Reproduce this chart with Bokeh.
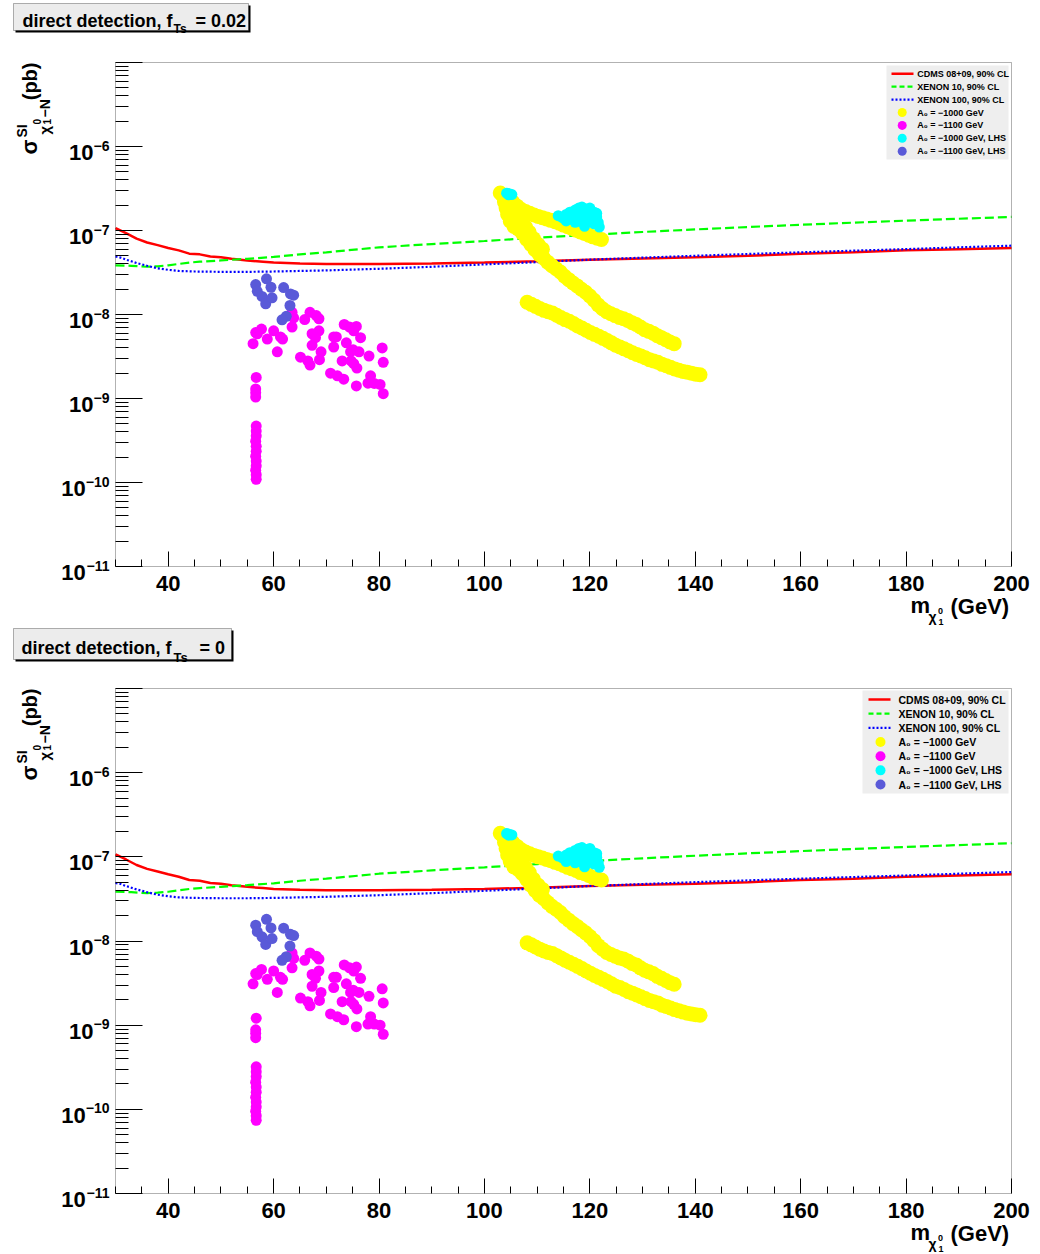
import math
from bokeh.plotting import figure
from bokeh.models import (Range1d, LinearScale, FixedTicker, Label, BoxAnnotation,
                          CustomJSTickFormatter)
from bokeh.layouts import column
from bokeh.embed import file_html
from bokeh.resources import INLINE

FONT = "Liberation Sans"

# ---------------- axes / ticks ----------------
X_MIN, X_MAX = 30, 200
Y_MIN_EXP, Y_MAX_EXP = -11, -5
x_ticks = [40, 60, 80, 100, 120, 140, 160, 180, 200]
x_minor = [30, 35, 45, 50, 55, 65, 70, 75, 85, 90, 95, 105, 110, 115, 125, 130, 135,
           145, 150, 155, 165, 170, 175, 185, 190, 195]
x_tick_labels = ["40", "60", "80", "100", "120", "140", "160", "180", "200"]
y_label_exps = [-11, -10, -9, -8, -7, -6]
legend_names = ["CDMS 08+09, 90% CL", "XENON 10, 90% CL", "XENON 100, 90% CL",
                "A\u2080 = \u22121000 GeV", "A\u2080 = \u22121100 GeV",
                "A\u2080 = \u22121000 GeV, LHS", "A\u2080 = \u22121100 GeV, LHS"]

# ---------------- exclusion limits (same in both panels) ----------------
cdms_x = [30, 32, 34, 36, 38, 40, 42, 44, 46, 48, 50, 52, 55, 58, 60, 65, 70, 80, 90,
          100, 110, 120, 130, 140, 150, 160, 170, 180, 190, 200]
cdms_y = [1.07e-7, 9.3e-8, 8.0e-8, 7.2e-8, 6.7e-8, 6.2e-8, 5.8e-8, 5.3e-8, 5.2e-8, 4.9e-8,
          4.8e-8, 4.6e-8, 4.4e-8, 4.25e-8, 4.15e-8, 4.05e-8, 4.0e-8, 4.0e-8, 4.05e-8,
          4.15e-8, 4.3e-8, 4.5e-8, 4.65e-8, 4.8e-8, 5.0e-8, 5.3e-8, 5.5e-8, 5.8e-8, 6.0e-8, 6.2e-8]
xe10_x = [30, 33, 36, 38, 40, 42, 44, 46, 50, 55, 60, 65, 70, 80, 90, 100, 110, 120, 130,
          140, 150, 160, 170, 180, 190, 200]
xe10_y = [3.85e-8, 3.8e-8, 3.7e-8, 3.75e-8, 3.85e-8, 4.0e-8, 4.15e-8, 4.25e-8, 4.4e-8,
          4.6e-8, 4.85e-8, 5.2e-8, 5.5e-8, 6.3e-8, 6.9e-8, 7.5e-8, 8.2e-8, 8.9e-8, 9.6e-8,
          1.03e-7, 1.1e-7, 1.17e-7, 1.24e-7, 1.31e-7, 1.38e-7, 1.45e-7]
xe100_x = [30, 31, 32, 33, 34, 35, 36, 38, 40, 42, 45, 50, 55, 60, 65, 70, 80, 90, 100,
           110, 120, 130, 140, 150, 160, 170, 180, 190, 200]
xe100_y = [4.9e-8, 4.75e-8, 4.5e-8, 4.3e-8, 4.1e-8, 3.95e-8, 3.8e-8, 3.55e-8, 3.4e-8,
           3.3e-8, 3.25e-8, 3.22e-8, 3.22e-8, 3.25e-8, 3.3e-8, 3.35e-8, 3.5e-8, 3.7e-8,
           3.95e-8, 4.2e-8, 4.5e-8, 4.75e-8, 5.0e-8, 5.25e-8, 5.5e-8, 5.75e-8, 6.0e-8, 6.3e-8, 6.6e-8]

# ---------------- A0 = -1000 GeV (yellow) ----------------
y1_upper_x = [103.0, 103.8, 104.6, 105.4, 106.2, 107.0, 107.8, 108.6, 109.4, 110.2, 111.0,
              111.8, 112.6, 113.4, 114.2, 115.0, 115.8, 116.6, 117.4, 118.2, 119.0, 119.8,
              120.6, 121.4, 122.2]
y1_upper_top = [2.8e-7, 2.6e-7, 2.42e-7, 2.15e-7, 1.95e-7, 1.78e-7, 1.68e-7, 1.6e-7, 1.53e-7,
                1.47e-7, 1.42e-7, 1.37e-7, 1.32e-7, 1.27e-7, 1.22e-7, 1.16e-7, 1.11e-7,
                1.06e-7, 1.01e-7, 9.6e-8, 9.2e-8, 8.8e-8, 8.4e-8, 8.1e-8, 7.8e-8]
y1_upper_bot = [1.9e-7, 1.77e-7, 1.65e-7, 1.46e-7, 1.33e-7, 1.21e-7, 1.14e-7, 1.09e-7, 1.04e-7,
                1.0e-7, 9.7e-8, 9.3e-8, 9.0e-8, 8.6e-8, 8.3e-8, 7.9e-8, 7.5e-8, 7.2e-8,
                6.9e-8, 6.5e-8, 6.3e-8, 6.0e-8, 5.7e-8, 5.5e-8, 5.3e-8]
y1_steep_x = [103.5, 103.8, 104.1, 104.4, 104.9, 105.6, 106.4, 107.2, 108.0, 108.8, 109.6,
              110.4, 111.2, 112.0, 112.8, 113.6, 114.4, 115.2, 116.0, 116.8, 117.6, 118.4,
              119.2, 120.0, 120.8, 121.6, 122.4, 123.2, 124.0, 124.8, 125.6, 126.4, 127.2,
              128.0, 128.8, 129.6, 130.4, 131.2, 132.0, 132.8, 133.6, 134.4, 135.2, 136.0,
              105.3, 105.8, 106.3, 107.0, 107.8, 108.5, 109.3, 110.2, 111.0]
y1_steep_top = [2.6e-7, 2.19e-7, 1.86e-7, 1.55e-7, 1.29e-7, 1.12e-7, 1.04e-7, 9.3e-8, 7.9e-8,
                6.8e-8, 5.9e-8, 5.2e-8, 4.7e-8, 4.2e-8, 3.8e-8, 3.5e-8, 3.2e-8, 2.85e-8,
                2.6e-8, 2.37e-8, 2.19e-8, 2.0e-8, 1.84e-8, 1.66e-8, 1.48e-8, 1.3e-8, 1.17e-8,
                1.08e-8, 1.02e-8, 9.7e-9, 9.2e-9, 8.9e-9, 8.5e-9, 8.0e-9, 7.6e-9, 7.1e-9,
                6.6e-9, 6.3e-9, 6.0e-9, 5.6e-9, 5.3e-9, 5.0e-9, 4.7e-9, 4.5e-9,
                2.2e-7, 1.8e-7, 1.5e-7, 1.3e-7, 1.1e-7, 9.5e-8, 8.0e-8, 6.8e-8, 6.0e-8]
y1_steep_bot = [1.77e-7, 1.49e-7, 1.26e-7, 1.05e-7, 8.8e-8, 7.6e-8, 7.1e-8, 6.3e-8, 5.4e-8,
                4.6e-8, 4.0e-8, 3.5e-8, 3.2e-8, 2.86e-8, 2.58e-8, 2.38e-8, 2.18e-8, 1.94e-8,
                1.77e-8, 1.61e-8, 1.49e-8, 1.36e-8, 1.25e-8, 1.13e-8, 1.01e-8, 8.8e-9, 8.0e-9,
                7.3e-9, 6.9e-9, 6.6e-9, 6.3e-9, 6.1e-9, 5.8e-9, 5.4e-9, 5.2e-9, 4.8e-9,
                4.5e-9, 4.3e-9, 4.1e-9, 3.8e-9, 3.6e-9, 3.4e-9, 3.2e-9, 3.06e-9,
                1.5e-7, 1.22e-7, 1.02e-7, 8.8e-8, 7.5e-8, 6.5e-8, 5.4e-8, 4.6e-8, 4.1e-8]
y1_lower_x = [108.1, 108.9, 109.7, 110.5, 111.3, 112.1, 112.9, 113.7, 114.5, 115.3, 116.1,
              116.9, 117.7, 118.5, 119.3, 120.1, 120.9, 121.7, 122.5, 123.3, 124.1, 124.9,
              125.7, 126.5, 127.3, 128.1, 128.9, 129.7, 130.5, 131.3, 132.1, 132.9, 133.7,
              134.5, 135.3, 136.1, 136.9, 137.7, 138.5, 139.3, 140.1, 140.9]
y1_lower_top = [1.40e-8, 1.32e-8, 1.25e-8, 1.18e-8, 1.12e-8, 1.08e-8, 1.04e-8, 9.8e-9, 9.2e-9,
                8.7e-9, 8.3e-9, 7.8e-9, 7.3e-9, 6.9e-9, 6.5e-9, 6.1e-9, 5.8e-9, 5.5e-9,
                5.2e-9, 4.9e-9, 4.6e-9, 4.3e-9, 4.1e-9, 3.9e-9, 3.7e-9, 3.5e-9, 3.35e-9,
                3.2e-9, 3.05e-9, 2.9e-9, 2.8e-9, 2.7e-9, 2.55e-9, 2.45e-9, 2.35e-9, 2.25e-9,
                2.17e-9, 2.1e-9, 2.05e-9, 2.0e-9, 1.95e-9, 1.92e-9]
y1_lower_bot = [9.5e-9, 9.0e-9, 8.5e-9, 8.0e-9, 7.6e-9, 7.3e-9, 7.1e-9, 6.7e-9, 6.3e-9,
                5.9e-9, 5.6e-9, 5.3e-9, 5.0e-9, 4.7e-9, 4.4e-9, 4.15e-9, 3.9e-9, 3.7e-9,
                3.5e-9, 3.3e-9, 3.1e-9, 2.9e-9, 2.8e-9, 2.65e-9, 2.5e-9, 2.4e-9, 2.28e-9,
                2.18e-9, 2.07e-9, 1.97e-9, 1.9e-9, 1.84e-9, 1.73e-9, 1.67e-9, 1.6e-9, 1.53e-9,
                1.48e-9, 1.43e-9, 1.39e-9, 1.36e-9, 1.33e-9, 1.31e-9]

# ---------------- A0 = -1100 GeV (magenta) ----------------
m1_x = [63.5, 63.8, 63.5, 66.9, 68.1, 68.6, 65.9, 68.6, 67.3, 67.95, 67.3, 69.0, 68.7, 65.1,
        66.5, 66.9, 56.6, 57.7, 56.1, 58.8, 60.0, 61.3, 61.7, 60.7, 56.9, 71.4, 71.9, 73.4,
        74.4, 75.2, 75.7, 76.5, 73.8, 71.4, 74.6, 75.1, 76.2, 73.0, 74.7, 75.2, 75.8, 70.8,
        72.1, 73.3, 75.7, 78.1, 80.6, 80.8, 78.4, 77.9, 79.1, 80.2, 80.8,
        56.7, 56.6, 56.6, 56.6, 56.7, 56.7, 56.7, 56.6, 56.7, 56.7, 56.6, 56.7, 56.7, 56.6,
        56.7, 56.7]
m1_top = [1.06e-8, 9.1e-9, 7.1e-9, 1.06e-8, 9.7e-9, 8.9e-9, 8.7e-9, 6.4e-9, 5.9e-9, 5.3e-9,
          4.3e-9, 3.6e-9, 2.9e-9, 3.1e-9, 2.8e-9, 2.5e-9, 6.1e-9, 6.7e-9, 4.5e-9, 5.1e-9,
          6.4e-9, 5.4e-9, 5.1e-9, 3.6e-9, 5.9e-9, 5.4e-9, 5.4e-9, 7.6e-9, 7.1e-9, 6.4e-9,
          7.2e-9, 5.3e-9, 4.6e-9, 4.1e-9, 3.6e-9, 3.8e-9, 3.6e-9, 2.8e-9, 2.8e-9, 2.6e-9,
          2.3e-9, 2.0e-9, 1.86e-9, 1.70e-9, 1.41e-9, 3.2e-9, 4.0e-9, 2.7e-9, 1.86e-9,
          1.52e-9, 1.51e-9, 1.47e-9, 1.14e-9,
          1.78e-9, 1.3e-9, 1.17e-9, 1.04e-9, 4.7e-10, 4.1e-10, 3.6e-10, 3.1e-10, 2.7e-10,
          2.35e-10, 2.05e-10, 1.8e-10, 1.58e-10, 1.4e-10, 1.24e-10, 1.09e-10]
m1_bot = [7.2e-9, 6.2e-9, 4.8e-9, 7.2e-9, 6.6e-9, 6.1e-9, 5.9e-9, 4.4e-9, 4.0e-9, 3.6e-9,
          2.9e-9, 2.45e-9, 1.97e-9, 2.1e-9, 1.9e-9, 1.7e-9, 4.1e-9, 4.6e-9, 3.1e-9, 3.5e-9,
          4.4e-9, 3.7e-9, 3.5e-9, 2.45e-9, 4.0e-9, 3.7e-9, 3.7e-9, 5.2e-9, 4.8e-9, 4.4e-9,
          4.9e-9, 3.6e-9, 3.1e-9, 2.8e-9, 2.45e-9, 2.6e-9, 2.45e-9, 1.9e-9, 1.9e-9, 1.77e-9,
          1.56e-9, 1.36e-9, 1.26e-9, 1.16e-9, 9.6e-10, 2.2e-9, 2.7e-9, 1.84e-9, 1.26e-9,
          1.03e-9, 1.03e-9, 1.0e-9, 7.8e-10,
          1.21e-9, 8.8e-10, 8.0e-10, 7.1e-10, 3.2e-10, 2.8e-10, 2.45e-10, 2.1e-10, 1.84e-10,
          1.6e-10, 1.39e-10, 1.22e-10, 1.07e-10, 9.5e-11, 8.4e-11, 7.4e-11]

# ---------------- A0 = -1000 GeV, LHS (cyan) ----------------
c1_x = [104.2, 104.7, 105.2, 104.6, 114.0, 114.8, 115.5, 116.2, 116.0, 117.0, 117.2, 117.9,
        118.5, 118.0, 118.8, 119.3, 120.0, 119.5, 120.2, 120.8, 121.3, 120.8, 121.6, 121.8,
        119.0, 117.2, 115.5, 121.3]
c1_top = [2.78e-7, 2.74e-7, 2.68e-7, 2.66e-7, 1.5e-7, 1.42e-7, 1.55e-7, 1.65e-7, 1.35e-7,
          1.5e-7, 1.75e-7, 1.85e-7, 1.9e-7, 1.3e-7, 1.55e-7, 1.8e-7, 1.85e-7, 1.25e-7, 1.5e-7,
          1.65e-7, 1.45e-7, 1.2e-7, 1.25e-7, 1.1e-7, 1.12e-7, 1.25e-7, 1.3e-7, 1.6e-7]
c1_bot = [1.89e-7, 1.86e-7, 1.82e-7, 1.81e-7, 1.02e-7, 9.7e-8, 1.05e-7, 1.12e-7, 9.2e-8,
          1.02e-7, 1.19e-7, 1.26e-7, 1.29e-7, 8.8e-8, 1.05e-7, 1.22e-7, 1.26e-7, 8.5e-8, 1.02e-7,
          1.12e-7, 9.9e-8, 8.2e-8, 8.5e-8, 7.5e-8, 7.6e-8, 8.5e-8, 8.8e-8, 1.09e-7]

# ---------------- A0 = -1100 GeV, LHS (purple) ----------------
p1_x = [56.6, 58.65, 56.9, 59.5, 57.8, 58.5, 59.7, 61.9, 63.2, 63.8, 63.1, 62.4, 61.6]
p1_top = [2.27e-8, 2.66e-8, 1.89e-8, 2.11e-8, 1.64e-8, 1.34e-8, 1.58e-8, 2.09e-8, 1.76e-8,
          1.70e-8, 1.28e-8, 9.5e-9, 8.65e-9]
p1_bot = [1.54e-8, 1.81e-8, 1.29e-8, 1.43e-8, 1.12e-8, 9.1e-9, 1.07e-8, 1.42e-8, 1.2e-8,
          1.16e-8, 8.7e-9, 6.5e-9, 5.9e-9]

C_RED = "#ff0000"
C_GREEN = "#00ff00"
C_BLUE = "#0000ff"
C_YEL = "#ffff00"
C_MAG = "#ff00ff"
C_CYAN = "#00ffff"
C_PURP = "#5a5ad8"

FIG_W = 1030          # figure width (px)
FX0, FX1 = 115, 1011  # frame left / right (px)


def lab(p, x, y, text, size, align="left", baseline="alphabetic", angle=0.0,
        xr="px", yr="px", yoff=0):
    p.add_layout(Label(x=x, y=y, text=text, x_range_name=xr, y_range_name=yr,
                       text_font=FONT, text_font_style="bold",
                       text_font_size=f"{size}px", text_align=align,
                       text_baseline=baseline, angle=angle, text_color="black",
                       y_offset=yoff))


def make_panel(cfg, yel_u, yel_s, yel_l, mag, cya, pur):
    fh, ft, H = cfg["height"], cfg["ft"], cfg["frame_h"]
    fb = ft + H
    gev_per_px = (X_MAX - X_MIN) / (FX1 - FX0)
    dec_px = H / (Y_MAX_EXP - Y_MIN_EXP)
    x_lo = X_MIN - FX0 * gev_per_px
    x_hi = X_MAX + (FIG_W - FX1) * gev_per_px
    y_hi = 10 ** (Y_MAX_EXP + ft / dec_px)
    y_lo = 10 ** (Y_MIN_EXP - (fh - fb) / dec_px)

    p = figure(frame_width=FIG_W, frame_height=fh, x_range=Range1d(x_lo, x_hi),
               y_range=Range1d(y_lo, y_hi), y_axis_type="log",
               output_backend="svg", toolbar_location=None, min_border=0)
    p.extra_x_ranges = {"px": Range1d(0, FIG_W)}
    p.extra_y_ranges = {"px": Range1d(fh, 0)}
    p.extra_x_scales = {"px": LinearScale()}
    p.extra_y_scales = {"px": LinearScale()}
    p.background_fill_color = "white"
    p.border_fill_color = "white"
    p.outline_line_color = None
    p.grid.visible = False

    blank = CustomJSTickFormatter(code="return ''")

    xa = p.xaxis[0]
    xa.fixed_location = 10.0 ** Y_MIN_EXP
    xa.bounds = (X_MIN, X_MAX)
    xa.ticker = FixedTicker(ticks=x_ticks, minor_ticks=x_minor)
    xa.formatter = blank
    xa.major_tick_in = 15
    xa.major_tick_out = 0
    xa.minor_tick_in = 7
    xa.minor_tick_out = 0
    xa.axis_line_color = None
    xa.major_tick_line_color = "black"
    xa.minor_tick_line_color = "black"
    xa.major_label_standoff = 0

    ya = p.yaxis[0]
    decades = [10.0 ** e for e in range(Y_MIN_EXP, Y_MAX_EXP + 1)]
    minors = [m * 10.0 ** e for e in range(Y_MIN_EXP, Y_MAX_EXP) for m in range(2, 10)]
    ya.fixed_location = X_MIN
    ya.bounds = (10.0 ** Y_MIN_EXP, 10.0 ** Y_MAX_EXP)
    ya.ticker = FixedTicker(ticks=decades, minor_ticks=minors)
    ya.formatter = blank
    ya.major_tick_in = 27
    ya.major_tick_out = 0
    ya.minor_tick_in = 13
    ya.minor_tick_out = 0
    ya.axis_line_color = None
    ya.major_tick_line_color = "black"
    ya.minor_tick_line_color = "black"
    ya.major_label_standoff = 0

    # limits
    p.line(cdms_x, cdms_y, line_color=C_RED, line_width=2.5)
    p.line(xe10_x, xe10_y, line_color=C_GREEN, line_width=2.2, line_dash="9 4")
    p.line(xe100_x, xe100_y, line_color=C_BLUE, line_width=2.2, line_dash="2 2")

    # scatter sets
    p.scatter(y1_upper_x, yel_u, size=15, fill_color=C_YEL, line_color=None)
    p.scatter(y1_steep_x, yel_s, size=15, fill_color=C_YEL, line_color=None)
    p.scatter(y1_lower_x, yel_l, size=15, fill_color=C_YEL, line_color=None)
    p.scatter(m1_x, mag, size=11, fill_color=C_MAG, line_color=None)
    p.scatter(c1_x, cya, size=11, fill_color=C_CYAN, line_color=None)
    p.scatter(p1_x, pur, size=11, fill_color=C_PURP, line_color=None)

    # frame box
    p.add_layout(BoxAnnotation(left=X_MIN, right=X_MAX, bottom=10.0 ** Y_MIN_EXP,
                               top=10.0 ** Y_MAX_EXP, fill_alpha=0.0,
                               line_color="black", line_width=1))

    # legend
    lg = cfg["legend"]
    p.add_layout(BoxAnnotation(left=lg["l"], right=lg["r"], top=lg["t"], bottom=lg["b"],
                               x_range_name="px", y_range_name="px",
                               fill_color="#eeeeee", fill_alpha=1.0, line_color=None,
                               level="underlay"))
    rows = [lg["y0"] + i * lg["dy"] for i in range(7)]
    p.line([lg["lx0"], lg["lx1"]], [rows[0], rows[0]], x_range_name="px", y_range_name="px",
           line_color=C_RED, line_width=2.5)
    p.line([lg["lx0"], lg["lx1"]], [rows[1], rows[1]], x_range_name="px", y_range_name="px",
           line_color=C_GREEN, line_width=2.2, line_dash="5 3")
    p.line([lg["lx0"], lg["lx1"]], [rows[2], rows[2]], x_range_name="px", y_range_name="px",
           line_color=C_BLUE, line_width=2.2, line_dash="2 2")
    for i, c in zip(range(3, 7), [C_YEL, C_MAG, C_CYAN, C_PURP]):
        p.scatter([lg["mx"]], [rows[i]], size=lg["ms"], fill_color=c, line_color=None,
                  x_range_name="px", y_range_name="px")
    for i, name in enumerate(legend_names):
        lab(p, lg["tx"], rows[i], name, lg["fs"], baseline="middle")

    # title box
    t = cfg["title"]
    p.add_layout(BoxAnnotation(left=t["l"] + 2, right=t["r"] + 2, top=t["t"] + 2,
                               bottom=t["b"] + 2, x_range_name="px", y_range_name="px",
                               fill_color="black", fill_alpha=1.0, line_color=None))
    p.add_layout(BoxAnnotation(left=t["l"], right=t["r"], top=t["t"], bottom=t["b"],
                               x_range_name="px", y_range_name="px",
                               fill_color="#ececec", fill_alpha=1.0, line_color="black",
                               line_width=1))
    lab(p, t["tx"], t["ty"], "direct detection, f", t["fs"])
    lab(p, t["sx"], t["sy"], "Ts", t["sfs"])
    lab(p, t["ex"], t["ty"], t["value"], t["fs"])

    # x tick labels
    for v, s in zip(x_ticks, x_tick_labels):
        lab(p, v, fb + 16.5, s, 22, align="center", baseline="middle", xr="default")

    # y tick labels: 10^exp
    for e in y_label_exps:
        digits = str(abs(e))
        w = (0.584 + 0.556 * len(digits)) * 14
        lab(p, FX0 - 6, 10.0 ** e, "\u2212" + digits, 14, align="right", baseline="middle",
            yr="default", yoff=1)
        lab(p, FX0 - 6 - w, 10.0 ** e, "10", 22, align="right", baseline="middle",
            yr="default", yoff=-6)

    # x axis title  m_{chi^0_1} (GeV)
    lab(p, 910, fb + 39, "m", 22)
    lab(p, 928, fb + 50, "\u03c7", 14)
    lab(p, 937.5, fb + 44, "0", 9)
    lab(p, 938, fb + 55, "1", 9)
    lab(p, 950, fb + 40, "(GeV)", 22)

    # y axis title  sigma^{SI}_{chi^0_1 - N} (pb)   (rotated)
    rot = math.pi / 2
    lab(p, 29, ft + 92, "\u03c3", 22, angle=rot)
    lab(p, 21, ft + 75, "SI", 14, angle=rot)
    lab(p, 44, ft + 72, "\u03c7", 15, angle=rot)
    lab(p, 36, ft + 62, "0", 10, angle=rot)
    lab(p, 46, ft + 62, "1", 10, angle=rot)
    lab(p, 44, ft + 55, "\u2212N", 14, angle=rot)
    lab(p, 29, ft, "(pb)", 20, align="right", angle=rot)
    return p


top_cfg = dict(height=626, ft=62, frame_h=504,
               title=dict(l=13, r=248, t=3, b=30, tx=22, ty=20, fs=18,
                          sx=173, sy=28.5, sfs=12, ex=195, value="= 0.02"),
               legend=dict(l=886, r=1008, t=65, b=159, y0=73.3, dy=12.9, lx0=891, lx1=913,
                           mx=901.7, ms=9, tx=916.7, fs=9))
bot_cfg = dict(height=626, ft=62, frame_h=505,
               title=dict(l=13, r=231, t=2, b=33, tx=21, ty=21, fs=18,
                          sx=173, sy=30.7, sfs=13, ex=199, value="= 0"),
               legend=dict(l=862, r=1008, t=64, b=167, y0=73, dy=14.17, lx0=868, lx1=890,
                           mx=880, ms=10, tx=898, fs=10.5))

p_top = make_panel(top_cfg, y1_upper_top, y1_steep_top, y1_lower_top, m1_top, c1_top, p1_top)
p_bot = make_panel(bot_cfg, y1_upper_bot, y1_steep_bot, y1_lower_bot, m1_bot, c1_bot, p1_bot)

layout = column(p_top, p_bot, spacing=0)
open("out.html", "w").write(file_html(layout, INLINE))
